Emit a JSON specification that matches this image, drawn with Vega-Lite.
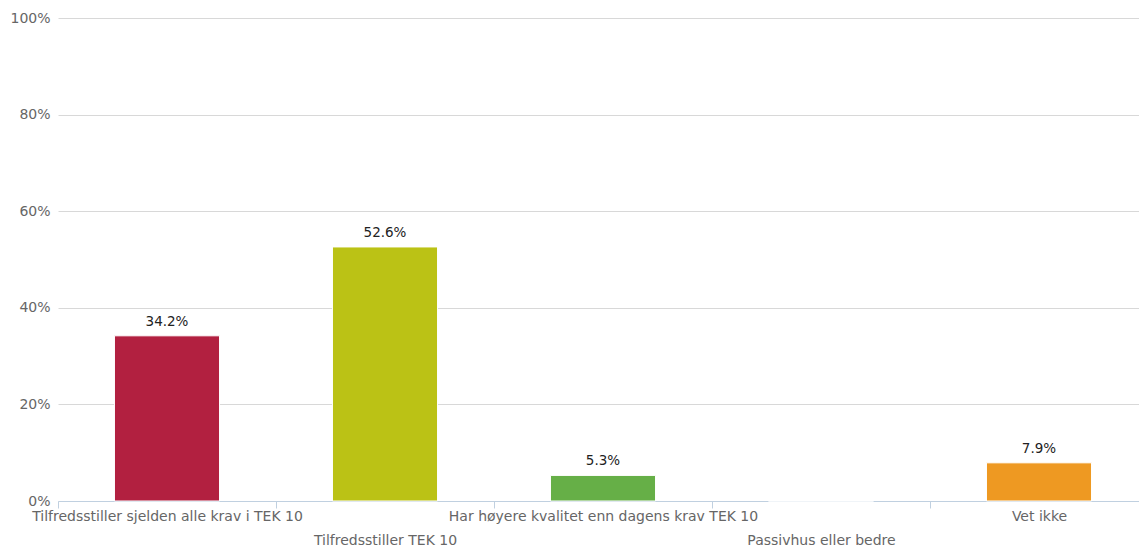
{
  "$schema": "https://vega.github.io/schema/vega-lite/v6.json",
  "width": 1090,
  "height": 483,
  "autosize": "none",
  "padding": {"left": 58, "top": 18, "right": 0, "bottom": 46},
  "background": "white",
  "config": {"view": {"stroke": null}, "font": "DejaVu Sans"},
  "data": {
    "values": [
      {"kategori": "Tilfredsstiller sjelden alle krav i TEK 10", "andel": 0.342, "farge": "#B22040"},
      {"kategori": "Tilfredsstiller TEK 10", "andel": 0.526, "farge": "#BBC215"},
      {"kategori": "Har høyere kvalitet enn dagens krav TEK 10", "andel": 0.053, "farge": "#66AF47"},
      {"kategori": "Passivhus eller bedre", "andel": 0.0, "farge": "#2F7ED8"},
      {"kategori": "Vet ikke", "andel": 0.079, "farge": "#EE9922"}
    ]
  },
  "encoding": {
    "x": {
      "field": "kategori",
      "type": "nominal",
      "sort": null,
      "scale": {"paddingInner": 0, "paddingOuter": 0},
      "axis": {
        "title": null,
        "labelAngle": 0,
        "labelFont": "DejaVu Sans",
        "labelFontSize": 14,
        "labelColor": "#666666",
        "labelLineHeight": 24,
        "labelBaseline": "top",
        "labelPadding": 1,
        "labelLimit": 0,
        "labelOverlap": false,
        "labelBound": false,
        "labelFlush": false,
        "labelExpr": "(datum.value == 'Tilfredsstiller TEK 10' || datum.value == 'Passivhus eller bedre') ? ['', datum.label] : datum.label",
        "tickBand": "extent",
        "tickSize": 7,
        "tickColor": "#C0D0E0",
        "domainColor": "#C0D0E0",
        "grid": false
      }
    },
    "y": {
      "field": "andel",
      "type": "quantitative",
      "scale": {"domain": [0, 1], "nice": false},
      "axis": {
        "title": null,
        "format": ".0%",
        "values": [0, 0.2, 0.4, 0.6, 0.8, 1],
        "labelFont": "DejaVu Sans",
        "labelFontSize": 14,
        "labelColor": "#666666",
        "labelPadding": 8,
        "ticks": false,
        "domain": false,
        "gridColor": "#D8D8D8",
        "gridWidth": 1
      }
    }
  },
  "layer": [
    {
      "mark": {"type": "bar", "width": {"band": 0.482}, "stroke": "white", "strokeWidth": 1},
      "encoding": {
        "color": {"field": "farge", "type": "nominal", "scale": null, "legend": null}
      }
    },
    {
      "transform": [{"filter": "datum.andel > 0"}],
      "mark": {"type": "text", "baseline": "bottom", "dy": -7, "font": "DejaVu Sans", "fontSize": 13.5, "color": "#222222"},
      "encoding": {
        "text": {"field": "andel", "type": "quantitative", "format": ".1%"}
      }
    }
  ]
}
